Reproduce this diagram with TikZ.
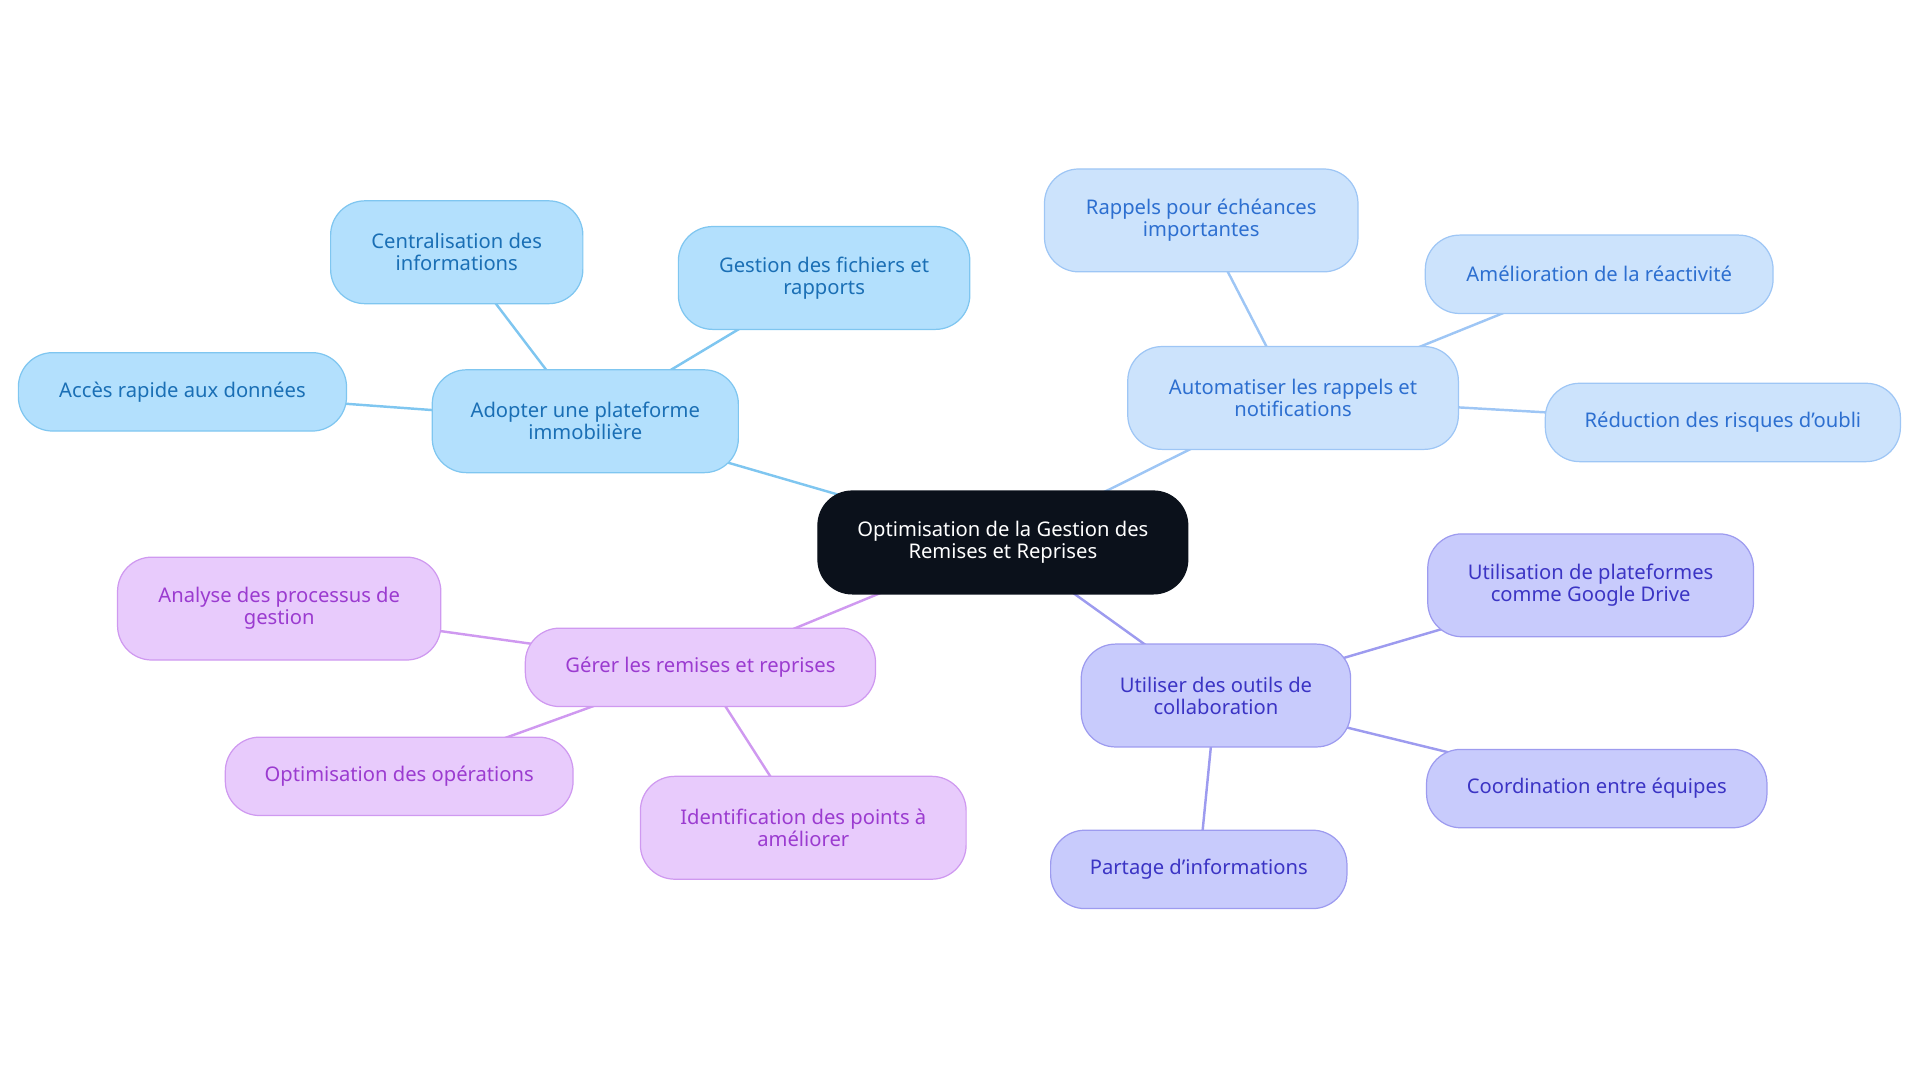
\documentclass[tikz,border=0pt]{standalone}
\usepackage{fontspec}
\setmainfont{Noto Sans}
\usetikzlibrary{backgrounds}
\definecolor{cb}{HTML}{B3E0FD}\definecolor{cbs}{HTML}{7FC6F0}\definecolor{cbt}{HTML}{1A6FB5}
\definecolor{lb}{HTML}{CCE3FC}\definecolor{lbs}{HTML}{9EC6F5}\definecolor{lbt}{HTML}{2D6FD0}
\definecolor{pu}{HTML}{C8CBFC}\definecolor{pus}{HTML}{9D9BEF}\definecolor{put}{HTML}{3B34C4}
\definecolor{pk}{HTML}{E8CBFC}\definecolor{pks}{HTML}{CF99F0}\definecolor{pkt}{HTML}{9B3BD0}
\definecolor{dk}{HTML}{0B111B}
\tikzset{
 box/.style={rounded corners=28pt,draw,line width=1pt,align=center,inner sep=0pt,font=\fontsize{16.5}{18}\selectfont},
 b/.style={box,fill=cb,draw=cbs,text=cbt},
 l/.style={box,fill=lb,draw=lbs,text=lbt},
 p/.style={box,fill=pu,draw=pus,text=put},
 k/.style={box,fill=pk,draw=pks,text=pkt},
 e/.style={line width=2pt},
}
\newcommand{\nd}[7]{\node[#1,minimum width=#5pt,minimum height=#6pt] (#2) at (#3pt,-#4pt) {#7};}
\begin{document}
\begin{tikzpicture}
\useasboundingbox (0,0) rectangle (1568pt,-884pt);
\nd{box,fill=dk,draw=dk,text=white}{c}{819}{443}{302}{84}{Optimisation de la Gestion des\\Remises et Reprises}
\nd{b}{a}{478}{344}{250}{84}{Adopter une plateforme\\immobilière}
\nd{b}{a1}{373}{206}{206}{84}{Centralisation des\\informations}
\nd{b}{a2}{673}{227}{238}{84}{Gestion des fichiers et\\rapports}
\nd{b}{a3}{149}{320}{268}{64}{Accès rapide aux données}
\nd{l}{r}{1056}{325}{270}{84}{Automatiser les rappels et\\notifications}
\nd{l}{r1}{981}{180}{256}{84}{Rappels pour échéances\\importantes}
\nd{l}{r2}{1306}{224}{284}{64}{Amélioration de la réactivité}
\nd{l}{r3}{1407}{345}{290}{64}{Réduction des risques d'oubli}
\nd{p}{u}{993}{568}{220}{84}{Utiliser des outils de\\collaboration}
\nd{p}{u1}{1299}{478}{266}{84}{Utilisation de plateformes\\comme Google Drive}
\nd{p}{u2}{1304}{644}{278}{64}{Coordination entre équipes}
\nd{p}{u3}{979}{710}{242}{64}{Partage d'informations}
\nd{k}{g}{572}{545}{286}{64}{Gérer les remises et reprises}
\nd{k}{g1}{228}{497}{264}{84}{Analyse des processus de\\gestion}
\nd{k}{g2}{326}{634}{284}{64}{Optimisation des opérations}
\nd{k}{g3}{656}{676}{266}{84}{Identification des points à\\améliorer}
\begin{scope}[on background layer]
\draw[e,draw=cbs] (c.center)--(a.center) (a.center)--(a1.center) (a.center)--(a2.center) (a.center)--(a3.center);
\draw[e,draw=lbs] (c.center)--(r.center) (r.center)--(r1.center) (r.center)--(r2.center) (r.center)--(r3.center);
\draw[e,draw=pus] (c.center)--(u.center) (u.center)--(u1.center) (u.center)--(u2.center) (u.center)--(u3.center);
\draw[e,draw=pks] (c.center)--(g.center) (g.center)--(g1.center) (g.center)--(g2.center) (g.center)--(g3.center);
\end{scope}
\end{tikzpicture}
\end{document}
